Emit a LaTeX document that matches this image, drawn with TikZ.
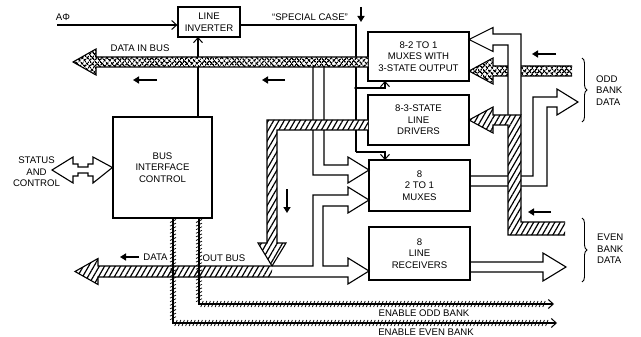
\documentclass[tikz,border=0pt]{standalone}
\usepackage{fontspec}
\setmainfont{Liberation Sans}
\usetikzlibrary{arrows.meta,patterns.meta,decorations.markings,decorations.pathreplacing}
\newcommand\dfont{\fontsize{9.6}{11.5}\selectfont}
\begin{document}
\begin{tikzpicture}[x=1pt,y=-1pt,
 wire/.style={line width=1.1pt},
 box/.style={draw,line width=1.2pt,fill=white,align=center,font=\dfont,inner sep=0pt},
 lbl/.style={font=\dfont,align=center,inner sep=0pt},
 openhead/.style={-{Straight Barb[length=5pt,width=9pt,line width=1pt]}},
 dirarr/.style={line width=1.6pt,-{Triangle[length=6pt,width=7pt]}},
 hatchfill/.style={preaction={fill=white},pattern={Lines[angle=60,distance=4.6pt,line width=1.2pt]}},
 xfill/.style={preaction={fill=white},pattern={Lines[angle=50,distance=4pt,line width=1.7pt]},postaction={pattern={Lines[angle=-50,distance=4pt,line width=1.7pt]}}},
 tickh/.style={postaction={decorate,decoration={markings,mark=between positions 0 and 1 step 3.6pt with {\draw[line width=0.75pt] (-1.2pt,-3pt) -- (1.2pt,3pt);}}}},
 tickv/.style={postaction={decorate,decoration={markings,mark=between positions 0 and 1 step 3.6pt with {\draw[line width=0.75pt] (-1.5pt,3pt) -- (1.5pt,-3pt);}}}},
 brc/.style={line width=0.9pt,decorate,decoration={brace,amplitude=5pt}}
]
\fill[white] (0,0) rectangle (641,337);
\useasboundingbox (0,0) rectangle (641,337);

% boxes
\node[box,minimum width=62pt,minimum height=30pt] (inv) at (209,22) {LINE\\INVERTER};
\node[box,minimum width=99pt,minimum height=101pt] (bic) at (162.5,167.5) {BUS\\INTERFACE\\CONTROL};
\node[box,minimum width=101pt,minimum height=49pt] (mux1) at (418.5,56.5) {8-2 TO 1\\MUXES WITH\\3-STATE OUTPUT};
\node[box,minimum width=101pt,minimum height=50pt] (drv) at (418.5,120) {8-3-STATE\\LINE\\DRIVERS};
\node[box,minimum width=101pt,minimum height=51pt] (mux2) at (419.5,185.5) {8\\2 TO 1\\MUXES};
\node[box,minimum width=101pt,minimum height=53pt] (rcv) at (419.5,253.5) {8\\LINE\\RECEIVERS};

% A phi
\node[lbl] (aphi) at (63,17) {AΦ};
\coordinate (aphiS) at (57,25);
\draw[wire,openhead] (aphiS) -- (aphiS -| inv.west);

% special case line
\coordinate (sc1) at (356,88);
\coordinate (sc2) at (356,152);
\draw[wire] ([yshift=-3pt]inv.east) -| (sc1) -- (sc2);
\draw[wire,openhead] (sc2) -| (385,160);
\draw[wire,openhead] (sc1) -| (385,81);

% bus interface control to inverter
\draw[wire,openhead] (198,117) -- (198,37);

% data-in branch to mux2 upper input
\draw[wire] (324,67) -- (324,165) -- (348,165) -- (348,157) -- (369,170) -- (348,183) -- (348,175) -- (313,175) -- (313,67);

% mux2 outputs to odd bank
\draw[wire] (470,176) -- (533,176) -- (533,97) -- (557,97) -- (557,89) -- (578,102) -- (557,115) -- (557,107) -- (547,107) -- (547,186) -- (470,186);

% receivers output
\draw[wire] (470,262) -- (543,262) -- (543,253) -- (566,267) -- (543,281) -- (543,272) -- (470,272);

% data in bus
\path[xfill] (368,57) -- (96,57) -- (96,49) -- (73,62) -- (96,75) -- (96,67) -- (368,67) -- cycle;
\draw[wire] (368,57) -- (96,57) -- (96,49) -- (73,62) -- (96,75) -- (96,67) -- (368,67);

% odd bank data in bus
\path[xfill] (572,66) -- (493,66) -- (493,58) -- (469,71) -- (493,84) -- (493,76) -- (572,76) -- cycle;
\draw[wire] (572,66) -- (493,66) -- (493,58) -- (469,71) -- (493,84) -- (493,76) -- (572,76);

% open bus into mux1
\fill[white] (469,39.5) -- (493,27.5) -- (493,34) -- (521,34) -- (521,115) -- (508,115) -- (508,45) -- (493,45) -- (493,51.5) -- cycle;
\draw[wire] (521,115) -- (521,34) -- (493,34) -- (493,27.5) -- (469,39.5) -- (493,51.5) -- (493,45) -- (508,45) -- (508,115);

% right hatched bus into drivers
\path[hatchfill] (469,120) -- (493,107) -- (493,115) -- (521,115) -- (521,222) -- (565,222) -- (565,235) -- (508,235) -- (508,125) -- (493,125) -- (493,133) -- cycle;
\draw[wire] (565,222) -- (521,222) -- (521,115) -- (493,115) -- (493,107) -- (469,120) -- (493,133) -- (493,125) -- (508,125) -- (508,235) -- (565,235);

% drivers to data out bus (hatched)
\path[hatchfill] (368,120) -- (267,120) -- (267,243) -- (258,243) -- (272,266) -- (286,243) -- (277,243) -- (277,130) -- (368,130) -- cycle;
\draw[wire] (368,120) -- (267,120) -- (267,243) -- (258,243) -- (272,266) -- (286,243) -- (277,243) -- (277,130) -- (368,130);

% data out bus
\path[hatchfill] (75,271.5) -- (98,258.5) -- (98,266) -- (272,266) -- (272,277) -- (98,277) -- (98,284.5) -- cycle;
\draw[wire] (75,271.5) -- (98,258.5) -- (98,266) -- (313,266) -- (313,195) -- (348,195) -- (348,187) -- (369,200) -- (348,213) -- (348,206) -- (323,206) -- (323,266) -- (348,266) -- (348,258) -- (369,271) -- (348,284) -- (348,277) -- (98,277) -- (98,284.5) -- cycle;

\fill (sc1) circle (1.8pt);

% status and control double arrow
\draw[wire] (52,170) -- (73,157) -- (73,164) -- (78,164) -- (78,167) -- (88,167) -- (88,164) -- (93,164) -- (93,157) -- (bic.west) -- (93,183) -- (93,176) -- (88,176) -- (88,173) -- (78,173) -- (78,176) -- (73,176) -- (73,183) -- cycle;

% enable lines
\draw[wire,openhead] (173,218) |- (557,323);
\path[tickv] (173,221) -- (173,320);
\path[tickh] (176,323) -- (548,323);
\draw[wire,openhead] (199,218) |- (554,304);
\path[tickv] (199,221) -- (199,301);
\path[tickh] (202,304) -- (545,304);

% labels
\node[lbl] (dib) at (140,48) {DATA IN BUS};
\node[lbl] (sc) at (310,17) {“SPECIAL CASE”};
\node[lbl] (stc) at (36.5,172) {STATUS\\AND\\CONTROL};
\node[lbl] (dat) at (155.5,257) {DATA};
\node[lbl] (ob) at (224,258) {OUT BUS};
\node[lbl] (eob) at (424,313) {ENABLE ODD BANK};
\node[lbl] (eeb) at (426,332) {ENABLE EVEN BANK};
\node[lbl,align=left,anchor=west] (obd) at (596,90.5) {ODD\\BANK\\DATA};
\node[lbl,align=left,anchor=west] (ebd) at (597,249) {EVEN\\BANK\\DATA};

% direction arrows
\draw[dirarr] (157,80) -- (133,80);
\draw[dirarr] (285,80) -- (262,80);
\draw[dirarr] (556,54) -- (532,54);
\draw[dirarr] (551,212) -- (528,212);
\draw[dirarr] (139,257) -- (120,257);
\draw[dirarr] (287,189) -- (287,213);
\draw[dirarr] (361,7) -- (361,22);

% braces
\draw[brc] (582,58) -- (582,122);
\draw[brc] (582,218) -- (582,282);
\end{tikzpicture}
\end{document}
